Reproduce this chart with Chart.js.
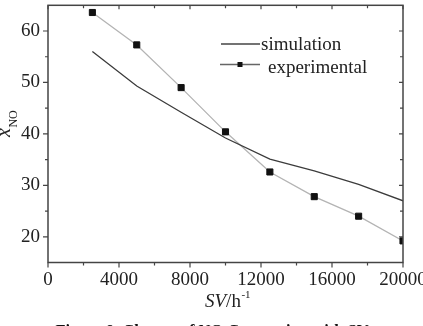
<!DOCTYPE html>
<html>
<head>
<meta charset="utf-8">
<script src="https://cdn.jsdelivr.net/npm/chart.js@4.4.1/dist/chart.umd.min.js"></script>
<style>
  html, body { margin: 0; padding: 0; background: #fff; }
  #wrap { width: 423px; height: 326px; }
</style>
</head>
<body>
<div id="wrap"><canvas id="chart" width="423" height="326"></canvas></div>
<script>
// data
const svValues = [2500, 5000, 7500, 10000, 12500, 15000, 17500, 20000];
const simulation = [56.0, 49.3, 44.2, 39.2, 35.1, 32.8, 30.2, 27.0];
const experimental = [63.6, 57.3, 49.0, 40.4, 32.6, 27.8, 24.0, 19.2];

const xTicks = [0, 4000, 8000, 12000, 16000, 20000];
const xMinorTicks = [2000, 6000, 10000, 14000, 18000];
const yTicks = [20, 30, 40, 50, 60];
const yMinorTicks = [25, 35, 45, 55];

const serif = "'Liberation Serif', 'Times New Roman', serif";
const axisColor = '#444';

const toPoints = (ys) => svValues.map((x, i) => ({ x: x, y: ys[i] }));

// frame, ticks, titles, legend and caption
const decorPlugin = {
  id: 'decor',
  afterDatasetsDraw(chart) {
    const ctx = chart.ctx;
    const a = chart.chartArea;
    const xs = chart.scales.x, ys = chart.scales.y;
    ctx.save();
    ctx.strokeStyle = axisColor;
    ctx.lineWidth = 1.5;
    ctx.strokeRect(a.left, a.top, a.right - a.left, a.bottom - a.top);

    ctx.lineWidth = 1.2;
    ctx.beginPath();
    const tickX = (v, len, inner) => {
      const px = xs.getPixelForValue(v);
      ctx.moveTo(px, a.bottom); ctx.lineTo(px, a.bottom + len);
      ctx.moveTo(px, a.top); ctx.lineTo(px, a.top + inner);
    };
    const tickY = (v, len, inner) => {
      const py = ys.getPixelForValue(v);
      ctx.moveTo(a.left, py); ctx.lineTo(a.left - len, py);
      ctx.moveTo(a.right, py); ctx.lineTo(a.right - inner, py);
    };
    xTicks.forEach(v => tickX(v, 5, 4));
    xMinorTicks.forEach(v => tickX(v, 3, 3));
    yTicks.forEach(v => tickY(v, 5, 4));
    yMinorTicks.forEach(v => tickY(v, 3, 3));
    ctx.stroke();
    ctx.restore();
  },
  afterDraw(chart) {
    const ctx = chart.ctx;
    ctx.save();
    ctx.fillStyle = '#222';
    ctx.textBaseline = 'alphabetic';
    ctx.textAlign = 'left';

    // y title: x with subscript NO
    ctx.save();
    ctx.translate(10, 137);
    ctx.rotate(-Math.PI / 2);
    ctx.font = 'italic 20px ' + serif;
    ctx.fillText('x', 0, 0);
    const xw = ctx.measureText('x').width;
    ctx.font = '12px ' + serif;
    ctx.fillText('NO', xw + 0.5, 7);
    ctx.restore();

    // x title: SV/h^-1
    let cx = 205;
    const base = 307;
    ctx.font = 'italic 19px ' + serif;
    ctx.fillText('SV', cx, base);
    cx += ctx.measureText('SV').width;
    ctx.font = '19px ' + serif;
    ctx.fillText('/h', cx, base);
    cx += ctx.measureText('/h').width;
    ctx.font = '11px ' + serif;
    ctx.fillText('-1', cx + 0.5, base - 9);

    // legend
    ctx.strokeStyle = '#444';
    ctx.lineWidth = 1.3;
    ctx.beginPath();
    ctx.moveTo(221, 44); ctx.lineTo(260, 44);
    ctx.stroke();
    ctx.strokeStyle = '#666';
    ctx.beginPath();
    ctx.moveTo(220, 64.5); ctx.lineTo(260, 64.5);
    ctx.stroke();
    ctx.fillStyle = '#111';
    ctx.fillRect(237.5, 62, 5, 5);
    ctx.fillStyle = '#222';
    ctx.font = '19px ' + serif;
    ctx.fillText('simulation', 261, 50);
    ctx.fillText('experimental', 268, 72.5);

    // caption (cut by the page edge)
    ctx.font = 'bold 16.5px ' + serif;
    ctx.textAlign = 'center';
    ctx.fillStyle = '#111';
    ctx.fillText('Figure 9  Change of NO Conversion with SV', 212, 335.5);
    ctx.restore();
  }
};

new Chart(document.getElementById('chart'), {
  type: 'scatter',
  data: {
    datasets: [
      {
        label: 'simulation',
        data: toPoints(simulation),
        showLine: true,
        borderColor: '#3c3c3c',
        borderWidth: 1.3,
        pointRadius: 0,
        pointHoverRadius: 0,
        tension: 0
      },
      {
        label: 'experimental',
        data: toPoints(experimental),
        showLine: true,
        borderColor: '#b4b4b4',
        borderWidth: 1.3,
        pointStyle: 'rect',
        pointRadius: 4.3,
        pointBackgroundColor: '#111',
        pointBorderColor: '#111',
        pointBorderWidth: 1,
        tension: 0
      }
    ]
  },
  options: {
    responsive: false,
    devicePixelRatio: 1,
    animation: false,
    layout: { padding: { top: 4.5, right: 20, left: 0, bottom: 0 } },
    plugins: {
      legend: { display: false },
      tooltip: { enabled: false }
    },
    scales: {
      x: {
        type: 'linear',
        min: 0,
        max: 20000,
        afterBuildTicks: (s) => { s.ticks = xTicks.map(v => ({ value: v })); },
        afterFit: (s) => { s.height = 63.5; s.paddingLeft = 0; s.paddingRight = 0; },
        grid: { display: false, drawTicks: false },
        border: { display: false },
        ticks: {
          color: '#222',
          font: { family: serif, size: 19 },
          padding: 6,
          maxRotation: 0,
          autoSkip: false,
          callback: (v) => String(v)
        }
      },
      y: {
        type: 'linear',
        min: 15,
        max: 65,
        afterBuildTicks: (s) => { s.ticks = yTicks.map(v => ({ value: v })); },
        afterFit: (s) => { s.width = 48; s.paddingTop = 0; s.paddingBottom = 0; },
        grid: { display: false, drawTicks: false },
        border: { display: false },
        ticks: {
          color: '#222',
          font: { family: serif, size: 19 },
          padding: 8,
          autoSkip: false,
          callback: (v) => String(v)
        }
      }
    }
  },
  plugins: [decorPlugin]
});
</script>
</body>
</html>
